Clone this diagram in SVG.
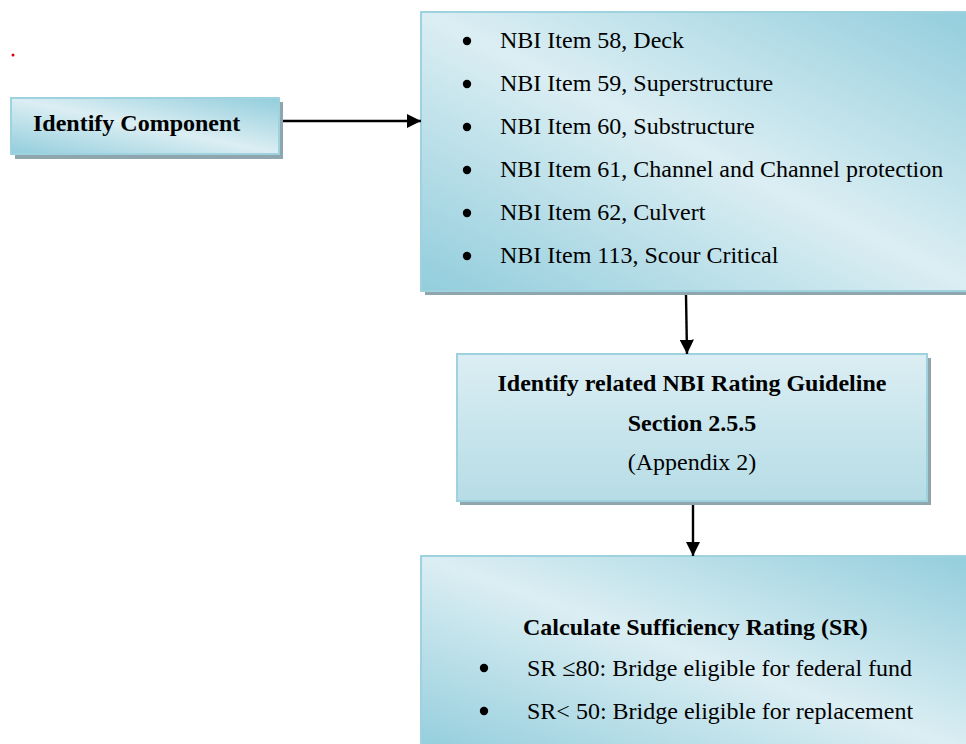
<svg xmlns="http://www.w3.org/2000/svg" width="966" height="744" viewBox="0 0 966 744">
<defs>
<linearGradient id="gDiag" x1="1" y1="0" x2="0" y2="1">
<stop offset="0" stop-color="#92cddc"/>
<stop offset="0.5" stop-color="#dbeef3"/>
<stop offset="1" stop-color="#92cddc"/>
</linearGradient>
<linearGradient id="gVert" x1="0" y1="0" x2="0" y2="1">
<stop offset="0" stop-color="#dbeef3"/>
<stop offset="1" stop-color="#b6dce6"/>
</linearGradient>
<marker id="arrow" viewBox="0 0 10 10" refX="10" refY="5" markerWidth="6" markerHeight="6" markerUnits="strokeWidth" orient="auto">
<path d="M0,0 L10,5 L0,10 z" fill="#000"/>
</marker>
</defs>
<style>
.shadow{fill:#8fa6ae}
.box{stroke:#9fd2df;stroke-width:2}
.t{font-family:"Liberation Serif","Times New Roman",serif;font-size:24px;fill:#000}
.b{font-weight:bold}
.mid{text-anchor:middle}
.conn{stroke:#000;stroke-width:2.4;fill:none}
</style>
<rect width="966" height="744" fill="#fff"/>
<circle cx="13" cy="55" r="1.5" fill="#e00000"/>

<g id="identify-component">
<rect class="shadow" x="15" y="102" width="268" height="57"/>
<rect class="box" x="11" y="98" width="268" height="56" fill="url(#gDiag)"/>
<text class="t b" x="33" y="131">Identify Component</text>
</g>

<g id="nbi-items">
<rect class="shadow" x="425" y="16" width="560" height="279"/>
<rect class="box" x="421" y="12" width="560" height="279" fill="url(#gDiag)"/>
<g fill="#000">
<circle cx="467" cy="41" r="4.2"/>
<circle cx="467" cy="84" r="4.2"/>
<circle cx="467" cy="127" r="4.2"/>
<circle cx="467" cy="170" r="4.2"/>
<circle cx="467" cy="213" r="4.2"/>
<circle cx="467" cy="256" r="4.2"/>
</g>
<text class="t" x="500" y="48">NBI Item 58, Deck</text>
<text class="t" x="500" y="91">NBI Item 59, Superstructure</text>
<text class="t" x="500" y="134">NBI Item 60, Substructure</text>
<text class="t" x="500" y="177">NBI Item 61, Channel and Channel protection</text>
<text class="t" x="500" y="220">NBI Item 62, Culvert</text>
<text class="t" x="500" y="263">NBI Item 113, Scour Critical</text>
</g>

<g id="rating-guideline">
<rect class="shadow" x="460" y="358" width="471" height="147"/>
<rect class="box" x="457" y="354" width="470" height="147" fill="url(#gVert)"/>
<text class="t b mid" x="692" y="391">Identify related NBI Rating Guideline</text>
<text class="t b mid" x="692" y="431">Section 2.5.5</text>
<text class="t mid" x="692" y="470">(Appendix 2)</text>
</g>

<g id="sufficiency-rating">
<rect class="box" x="421" y="556" width="560" height="200" fill="url(#gDiag)"/>
<text class="t b" x="523" y="635">Calculate Sufficiency Rating (SR)</text>
<g fill="#000">
<circle cx="484" cy="668" r="4.2"/>
<circle cx="484" cy="711" r="4.2"/>
</g>
<text class="t" x="527" y="676">SR ≤80: Bridge eligible for federal fund</text>
<text class="t" x="527" y="719">SR&lt; 50: Bridge eligible for replacement</text>
</g>

<g id="connectors">
<line class="conn" x1="283" y1="121" x2="421" y2="121" marker-end="url(#arrow)"/>
<line class="conn" x1="686" y1="295" x2="687" y2="354" marker-end="url(#arrow)"/>
<line class="conn" x1="693" y1="505" x2="693" y2="556" marker-end="url(#arrow)"/>
</g>
</svg>
